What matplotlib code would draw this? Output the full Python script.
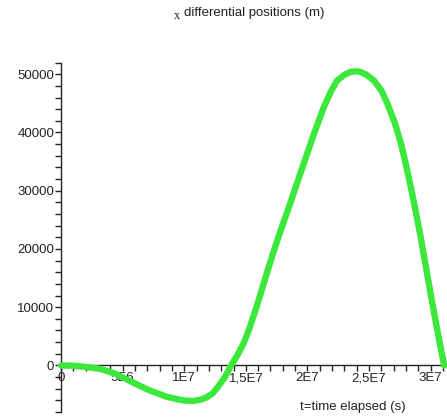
import matplotlib.pyplot as plt
from matplotlib.ticker import FixedLocator, FixedFormatter, MultipleLocator

# curve: time (s) and x differential position (m)
t_sec = [0, 1.0e6, 2.0e6, 3.2e6, 4.5e6, 5.9e6, 7.2e6, 8.6e6, 9.9e6, 10.7e6,
         11.3e6, 11.8e6, 12.3e6, 12.7e6, 13.3e6, 13.8e6, 14.3e6, 14.8e6,
         15.3e6, 15.8e6, 16.2e6, 16.7e6, 17.2e6, 17.8e6, 18.4e6, 19.4e6,
         20.5e6, 21.3e6, 21.9e6, 22.4e6, 23.0e6, 23.5e6, 23.9e6, 24.3e6,
         24.8e6, 25.4e6, 26.0e6, 26.5e6, 27.1e6, 27.6e6, 28.0e6, 28.4e6,
         28.8e6, 29.2e6, 29.6e6, 30.0e6, 30.3e6, 30.6e6, 30.85e6, 31.1e6]
x_pos = [0, -50, -250, -600, -1500, -3000, -4300, -5400, -6000, -6100,
         -5900, -5500, -4800, -3800, -2000, 0, 1700, 3700,
         6400, 9600, 12300, 15800, 19200, 23000, 26600, 32800,
         39600, 44200, 47000, 48900, 49900, 50400, 50500, 50400,
         49900, 48900, 47200, 44900, 41600, 38000, 34400, 30500,
         26300, 21900, 17100, 12300, 8800, 5400, 2600, 0]

xtick_vals = [0, 5e6, 1e7, 1.5e7, 2e7, 2.5e7, 3e7]
xtick_text = ["0", "5E6", "1E7", "1,5E7", "2E7", "2,5E7", "3E7"]
ytick_vals = [0, 10000, 20000, 30000, 40000, 50000]
ytick_text = ["0", "10000", "20000", "30000", "40000", "50000"]

plt.rcParams["font.family"] = ["Liberation Sans", "DejaVu Sans"]

fig = plt.figure(figsize=(4.47, 4.2), dpi=100)
ax = fig.add_axes([0.1365, 0.019, 0.8545, 0.832])

ax.plot(t_sec, x_pos, color="#3de83d", linewidth=4.6,
        solid_capstyle="round", solid_joinstyle="round", zorder=3, clip_on=False)

ax.set_xlim(0, 3.1e7)
ax.set_ylim(-8000, 52000)

ax.spines["top"].set_visible(False)
ax.spines["right"].set_visible(False)
ax.spines["left"].set_position(("data", 0))
ax.spines["bottom"].set_position(("data", 0))
for side in ("left", "bottom"):
    ax.spines[side].set_linewidth(1.0)
    ax.spines[side].set_color("#222222")

ax.xaxis.set_major_locator(FixedLocator(xtick_vals))
ax.xaxis.set_major_formatter(FixedFormatter(xtick_text))
ax.xaxis.set_minor_locator(MultipleLocator(1e6))
ax.yaxis.set_major_locator(FixedLocator(ytick_vals))
ax.yaxis.set_major_formatter(FixedFormatter(ytick_text))
ax.yaxis.set_minor_locator(MultipleLocator(2000))

ax.tick_params(which="both", direction="out", color="#222222", width=1.0,
               labelsize=9.5, labelcolor="#222222", pad=1, length=4)

fig.text(0.395, 0.962, "x", family="Liberation Serif", fontsize=9,
         color="#222222", va="center", ha="center")
fig.text(0.411, 0.969, "differential positions (m)", fontsize=9.5,
         color="#222222", va="center", ha="left")
fig.text(0.79, 0.031, "t=time elapsed (s)", fontsize=9.5,
         color="#222222", va="center", ha="center")

fig.savefig("out.png", dpi=100)
